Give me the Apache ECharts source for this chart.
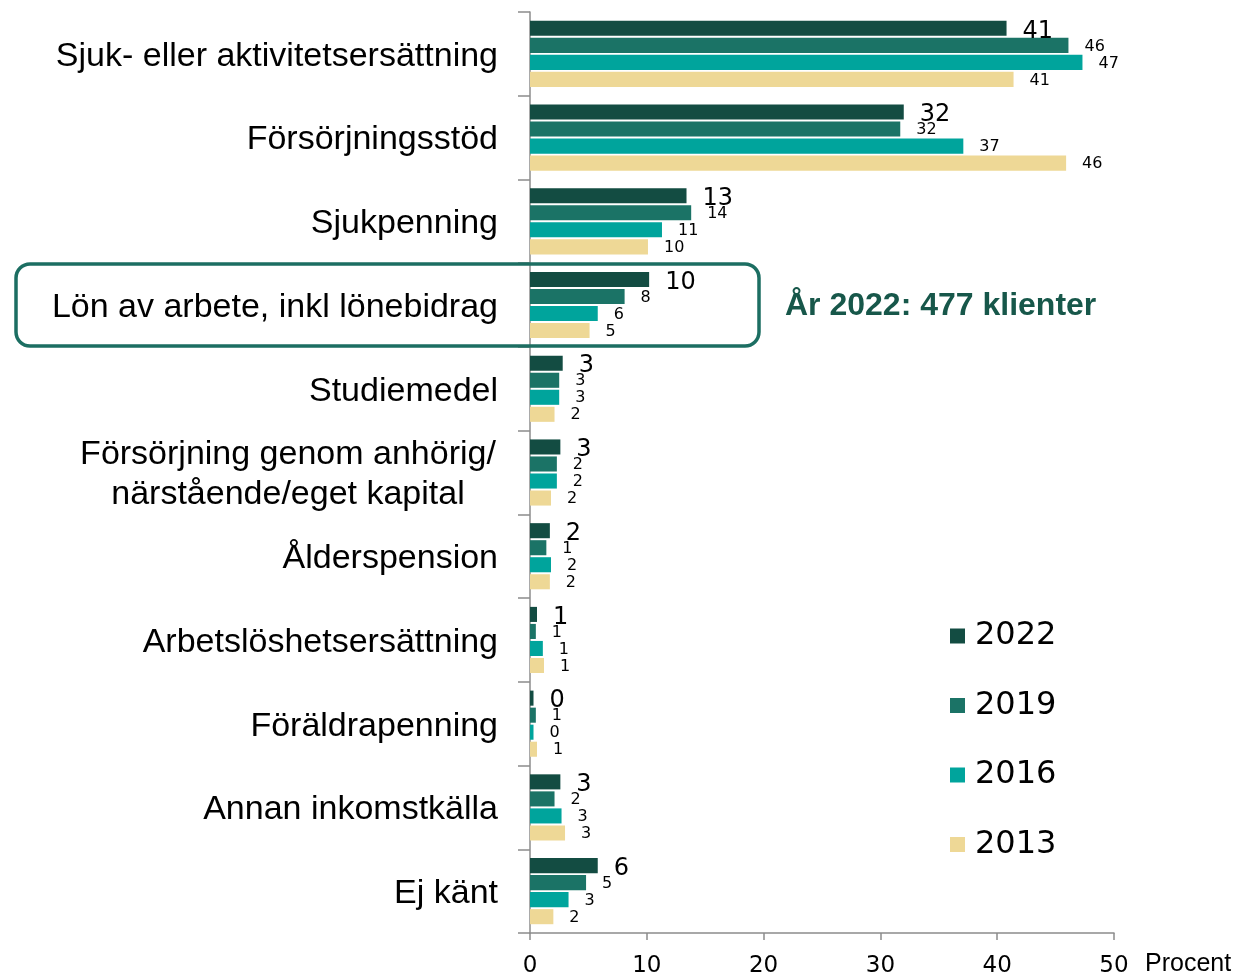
<!DOCTYPE html>
<html>
<head>
<meta charset="utf-8">
<script src="https://cdn.jsdelivr.net/npm/echarts@6/dist/echarts.min.js"></script>
<style>
  html, body { margin: 0; padding: 0; background: #ffffff; }
  #chart { width: 1235px; height: 978px; }
</style>
</head>
<body>
<div id="chart"></div>
<script>
// Inkomstkällor, andel av klienter (procent), per år
const categories = [
  'Sjuk- eller aktivitetsersättning',
  'Försörjningsstöd',
  'Sjukpenning',
  'Lön av arbete, inkl lönebidrag',
  'Studiemedel',
  'Försörjning genom anhörig/\nnärstående/eget kapital',
  'Ålderspension',
  'Arbetslöshetsersättning',
  'Föräldrapenning',
  'Annan inkomstkälla',
  'Ej känt'
];
const years = ['2022', '2019', '2016', '2013'];
const values2022 = [40.8, 32.0, 13.4, 10.2, 2.8, 2.6, 1.7, 0.6, 0.3, 2.6, 5.8];
const values2019 = [46.1, 31.7, 13.8, 8.1, 2.5, 2.3, 1.4, 0.5, 0.5, 2.1, 4.8];
const values2016 = [47.3, 37.1, 11.3, 5.8, 2.5, 2.3, 1.8, 1.1, 0.3, 2.7, 3.3];
const values2013 = [41.4, 45.9, 10.1, 5.1, 2.1, 1.8, 1.7, 1.2, 0.6, 3.0, 2.0];
const xTicks = [0, 10, 20, 30, 40, 50];
const highlightText = 'År 2022: 477 klienter';

const colors = ['#134c42', '#1b7366', '#00a49c', '#eed896'];
const seriesValues = [values2022, values2019, values2016, values2013];
const FONT = 'Liberation Sans';
const NUM_FONT = 'DejaVu Sans';

const chart = echarts.init(document.getElementById('chart'), null, { renderer: 'canvas' });

const series = years.map((y, i) => ({
  name: y,
  type: 'bar',
  data: seriesValues[i],
  itemStyle: { color: colors[i] },
  barGap: '13%',
  barCategoryGap: '21%',
  label: {
    show: true,
    position: 'right',
    distance: 16,
    offset: i === 0 ? [0, 3] : [0, 1],
    color: '#000',
    fontFamily: NUM_FONT,
    fontSize: i === 0 ? 24 : 16,
    formatter: p => String(Math.round(p.value))
  },
  emphasis: { disabled: true }
}));

chart.setOption({
  animation: false,
  textStyle: { fontFamily: FONT },
  grid: { left: 530, right: 121, top: 12, bottom: 43, containLabel: false },
  legend: {
    orient: 'vertical',
    left: 945,
    top: 611,
    data: years,
    icon: 'rect',
    itemWidth: 15,
    itemHeight: 15,
    itemGap: 29.5,
    textStyle: { fontFamily: NUM_FONT, fontSize: 32, color: '#000', lineHeight: 40, padding: [0, 0, 0, 5] }
  },
  xAxis: {
    type: 'value',
    min: xTicks[0],
    max: xTicks[xTicks.length - 1],
    interval: 10,
    name: 'Procent',
    nameLocation: 'end',
    nameGap: 31,
    nameTextStyle: { fontFamily: FONT, fontSize: 25, color: '#000', verticalAlign: 'top', padding: [19, 0, 0, 0] },
    axisLine: { show: true, lineStyle: { color: '#8c8c8c', width: 1.5 } },
    axisTick: { show: true, length: 7, lineStyle: { color: '#8c8c8c', width: 1.5 } },
    axisLabel: { fontFamily: NUM_FONT, fontSize: 23, color: '#000', margin: 22 },
    splitLine: { show: false }
  },
  yAxis: {
    type: 'category',
    data: categories,
    inverse: true,
    axisLine: { show: true, lineStyle: { color: '#8c8c8c', width: 1.5 } },
    axisTick: { show: true, length: 12, lineStyle: { color: '#8c8c8c', width: 1.5 } },
    axisLabel: {
      fontFamily: FONT,
      fontSize: 34,
      color: '#000',
      margin: 32,
      lineHeight: 40,
      padding: [5, 0, 0, 0],
      formatter: v => v.indexOf('\n') >= 0
        ? v.split('\n').map(s => '{c|' + s + '}').join('\n')
        : v,
      rich: { c: { fontFamily: FONT, fontSize: 34, color: '#000', lineHeight: 40, width: 420, align: 'center' } }
    }
  },
  series: series,
  graphic: [
    {
      type: 'rect',
      shape: { x: 16, y: 264, width: 743, height: 82, r: 14 },
      style: { fill: 'none', stroke: '#1c6e62', lineWidth: 3.5 },
      z: 10
    },
    {
      type: 'text',
      left: 785,
      top: 290,
      style: { text: highlightText, fontFamily: FONT, fontSize: 32, fontWeight: 'bold', fill: '#17574a' },
      z: 10
    }
  ]
});
</script>
</body>
</html>
